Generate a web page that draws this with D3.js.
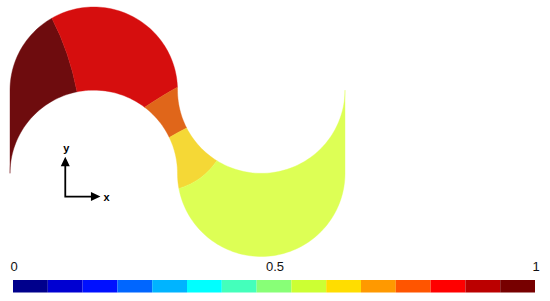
<!DOCTYPE html>
<html>
<head>
<meta charset="utf-8">
<style>
  html, body { margin: 0; padding: 0; background: #fff; }
  text { font-family: "Liberation Sans", Arial, sans-serif; fill: #111; }
</style>
<script src="https://d3js.org/d3.v7.min.js"></script>
</head>
<body>
<div id="chart"></div>
<script>
// colour bar
var barColors = ["#00008c", "#0000d2", "#0010ff", "#0066ff", "#00b4ff", "#00ffff", "#44ffbb", "#88ff77",
                 "#ccff33", "#ffdd00", "#ff9900", "#ff5500", "#ff0000", "#bb0000", "#770000"];
var barTicks = [0, 0.5, 1];

// the four wall arcs: centre in pipe radii
var outerBend1 = [1, 1], innerBend1 = [1, 0], innerBend2 = [3, 1], outerBend2 = [3, 0];

// regions, first to last along the pipe
var regionColors = ["#6e0c0e", "#d60e0e", "#e0661a", "#f5d836", "#ddff55"];
// angle where each seam meets a wall (degrees)
var seamOuter = [120, 2, 207, 190.5];
var seamInner = [101.5, 52.6, 25.6, 238];
// control point of each seam, in pipe radii
var seamBend = [[0.71, 1.458], [1.857, 0.96], [2.0, 0.49], [2.30, -0.10]];

var width = 550, height = 301;
var x = d3.scaleLinear().domain([0, 4]).range([10, 345]);
var y = d3.scaleLinear().domain([-1, 2]).range([256.5, 7]);

var svg = d3.select("#chart").append("svg")
  .attr("width", width).attr("height", height)
  .style("display", "block");

function pt(c, deg) {
  var a = deg * Math.PI / 180;
  return [c[0] + Math.cos(a), c[1] + Math.sin(a)];
}
function arcPts(c, from, to) {
  var n = Math.max(2, Math.ceil(Math.abs(to - from) / 2));
  return d3.range(n + 1).map(function(i) { return pt(c, from + (to - from) * i / n); });
}
function walk(p, pts, jump) {
  pts.forEach(function(d, i) {
    if (i === 0 && jump) p.moveTo(x(d[0]), y(d[1]));
    else p.lineTo(x(d[0]), y(d[1]));
  });
}
function seam(p, i, to) {
  p.quadraticCurveTo(x(seamBend[i][0]), y(seamBend[i][1]), x(to[0]), y(to[1]));
}

var regions = [
  function(p) {
    walk(p, arcPts(innerBend1, 180, seamInner[0]), true);
    seam(p, 0, pt(outerBend1, seamOuter[0]));
    walk(p, arcPts(outerBend1, seamOuter[0], 180));
  },
  function(p) {
    walk(p, arcPts(innerBend1, seamInner[0], seamInner[1]), true);
    seam(p, 1, pt(outerBend1, seamOuter[1]));
    walk(p, arcPts(outerBend1, seamOuter[1], seamOuter[0]));
    seam(p, 0, pt(innerBend1, seamInner[0]));
  },
  function(p) {
    walk(p, arcPts(innerBend1, seamInner[1], seamInner[2]), true);
    seam(p, 2, pt(innerBend2, seamOuter[2]));
    walk(p, arcPts(innerBend2, seamOuter[2], 180));
    walk(p, arcPts(outerBend1, 0, seamOuter[1]));
    seam(p, 1, pt(innerBend1, seamInner[1]));
  },
  function(p) {
    walk(p, arcPts(innerBend1, seamInner[2], 0), true);
    walk(p, arcPts(outerBend2, 180, seamOuter[3]));
    seam(p, 3, pt(innerBend2, seamInner[3]));
    walk(p, arcPts(innerBend2, seamInner[3], seamOuter[2]));
    seam(p, 2, pt(innerBend1, seamInner[2]));
  },
  function(p) {
    walk(p, arcPts(outerBend2, seamOuter[3], 360), true);
    walk(p, arcPts(innerBend2, 360, seamInner[3]));
    seam(p, 3, pt(outerBend2, seamOuter[3]));
  }
];

svg.append("g").selectAll("path")
  .data(regionColors)
  .enter().append("path")
  .attr("fill", function(d) { return d; })
  .attr("stroke", function(d) { return d; })
  .attr("stroke-width", 0.4)
  .attr("d", function(d, i) {
    var p = d3.path();
    regions[i](p);
    p.closePath();
    return p.toString();
  });

// coordinate triad
var triad = svg.append("g");
var ox = x(0.66), oy = y(-0.28);
var tipX = x(1.08), tipY = y(0.2);
triad.append("path")
  .attr("fill", "none").attr("stroke", "#000").attr("stroke-width", 1.8)
  .attr("d", "M" + ox + "," + (tipY + 6) + "V" + oy + "H" + (tipX - 6));
triad.append("path")
  .attr("d", "M" + ox + "," + tipY + "l4.5,9.5h-9zM" + tipX + "," + oy + "l-9.5,-4.5v9z");
triad.append("text").attr("x", ox + 1).attr("y", tipY - 5)
  .attr("text-anchor", "middle").attr("font-size", 11).attr("font-weight", "bold").style("fill", "#000").text("y");
triad.append("text").attr("x", tipX + 6).attr("y", oy + 4)
  .attr("text-anchor", "middle").attr("font-size", 11).attr("font-weight", "bold").style("fill", "#000").text("x");

// colour bar and its labels
var bar = d3.scaleBand()
  .domain(d3.range(barColors.length))
  .range([13, 535]);
var barScale = d3.scaleLinear().domain([0, 1]).range([13.5, 535.5]);

svg.append("g").selectAll("rect")
  .data(barColors)
  .enter().append("rect")
  .attr("x", function(d, i) { return bar(i); })
  .attr("y", 280)
  .attr("width", bar.bandwidth())
  .attr("height", 12.5)
  .attr("fill", function(d) { return d; });

var axis = svg.append("g")
  .attr("transform", "translate(0,271)")
  .call(d3.axisTop(barScale).tickValues(barTicks).tickSize(0).tickPadding(0).tickFormat(d3.format("")));
axis.select(".domain").remove();
axis.selectAll("text").attr("font-size", 13).attr("font-family", "Liberation Sans");
</script>
</body>
</html>
